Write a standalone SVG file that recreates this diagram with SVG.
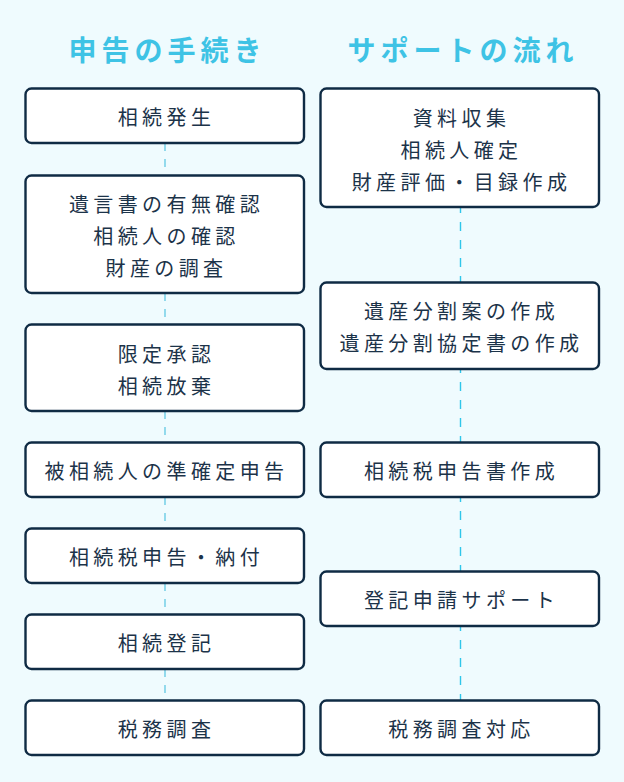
<svg xmlns="http://www.w3.org/2000/svg" width="624" height="782" viewBox="0 0 624 782">
<style>
.bg{fill:#effbfe}
.box{fill:#ffffff;stroke:#0f2b44;stroke-width:2.4}
.t{font-family:"Noto Sans CJK JP","Noto Sans",sans-serif;font-size:20px;fill:#1c3349;letter-spacing:4.4px;text-anchor:middle;dominant-baseline:central}
.h{font-family:"Noto Sans CJK JP","Noto Sans",sans-serif;font-size:28px;font-weight:700;fill:#3ec3e5;letter-spacing:5px;text-anchor:middle;dominant-baseline:central}
.dl{stroke:#45bfdc;stroke-width:1.1;fill:none;stroke-dasharray:8 8}
.dr{stroke:#2fc6ea;stroke-width:1.4;fill:none;stroke-dasharray:9 9}
</style>
<rect class="bg" x="0" y="0" width="624" height="782"/>
<g id="headers">
<text class="h" x="167.5" y="49">申告の手続き</text>
<text class="h" x="463" y="49">サポートの流れ</text>
</g>
<g id="connectors">
<line class="dl" x1="165" y1="143" x2="165" y2="175"/>
<line class="dl" x1="165" y1="293" x2="165" y2="324"/>
<line class="dl" x1="165" y1="411" x2="165" y2="442"/>
<line class="dl" x1="165" y1="497" x2="165" y2="528"/>
<line class="dl" x1="165" y1="583" x2="165" y2="614"/>
<line class="dl" x1="165" y1="669" x2="165" y2="700"/>
<line class="dr" x1="460.5" y1="204" x2="460.5" y2="282"/>
<line class="dr" x1="460.5" y1="364" x2="460.5" y2="442"/>
<line class="dr" x1="460.5" y1="493" x2="460.5" y2="571"/>
<line class="dr" x1="460.5" y1="622" x2="460.5" y2="700"/>
</g>
<g id="l1"><rect class="box" x="25.5" y="88.5" width="278.5" height="54.5" rx="6"/><text class="t" x="166.5" y="116">相続発生</text></g>
<g id="l2"><rect class="box" x="25.5" y="175.5" width="278.5" height="117.5" rx="6"/><text class="t" x="166.5" y="203">遺言書の有無確認</text><text class="t" x="166.5" y="235">相続人の確認</text><text class="t" x="166.5" y="267">財産の調査</text></g>
<g id="l3"><rect class="box" x="25.5" y="324.5" width="278.5" height="86.5" rx="6"/><text class="t" x="166.5" y="353">限定承認</text><text class="t" x="166.5" y="385">相続放棄</text></g>
<g id="l4"><rect class="box" x="25.5" y="442.5" width="278.5" height="54.5" rx="6"/><text class="t" x="166.5" y="470">被相続人の準確定申告</text></g>
<g id="l5"><rect class="box" x="25.5" y="528.5" width="278.5" height="54.5" rx="6"/><text class="t" x="166.5" y="556">相続税申告・納付</text></g>
<g id="l6"><rect class="box" x="25.5" y="614.5" width="278.5" height="54.5" rx="6"/><text class="t" x="166.5" y="642">相続登記</text></g>
<g id="l7"><rect class="box" x="25.5" y="700.5" width="278.5" height="54.5" rx="6"/><text class="t" x="166.5" y="728">税務調査</text></g>
<g id="r1"><rect class="box" x="320.5" y="88.5" width="278.5" height="118.5" rx="6"/><text class="t" x="461.5" y="117">資料収集</text><text class="t" x="461.5" y="149">相続人確定</text><text class="t" x="461.5" y="181">財産評価・目録作成</text></g>
<g id="r2"><rect class="box" x="320.5" y="282.5" width="278.5" height="86.5" rx="6"/><text class="t" x="461.5" y="310">遺産分割案の作成</text><text class="t" x="461.5" y="342">遺産分割協定書の作成</text></g>
<g id="r3"><rect class="box" x="320.5" y="442.5" width="278.5" height="54.5" rx="6"/><text class="t" x="461.5" y="470">相続税申告書作成</text></g>
<g id="r4"><rect class="box" x="320.5" y="571.5" width="278.5" height="54.5" rx="6"/><text class="t" x="461.5" y="599">登記申請サポート</text></g>
<g id="r5"><rect class="box" x="320.5" y="700.5" width="278.5" height="54.5" rx="6"/><text class="t" x="461.5" y="728">税務調査対応</text></g>
</svg>
